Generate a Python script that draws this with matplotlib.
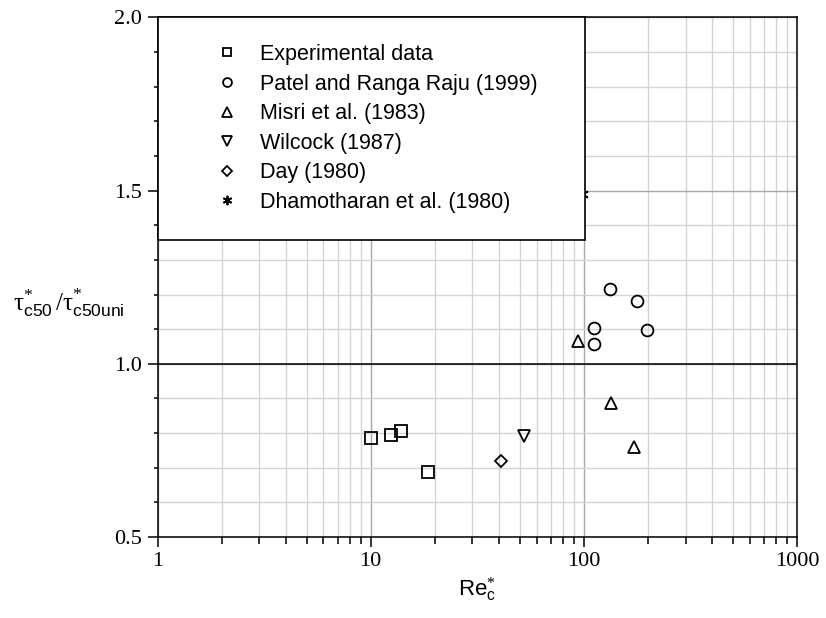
import matplotlib
matplotlib.use('Agg')
import matplotlib.pyplot as plt
from matplotlib.ticker import FixedLocator, LogLocator, NullFormatter, FixedFormatter

# ── data ─────────────────────────────────────────────────────────────────────
exp_x = [10.0, 12.4, 13.9, 18.6]
exp_y = [0.787, 0.794, 0.807, 0.689]

patel_x = [132.7, 177.0, 111.6, 198.7, 111.6]
patel_y = [1.216, 1.180, 1.103, 1.098, 1.057]

misri_x = [94.0, 133.7, 172.0]
misri_y = [1.066, 0.887, 0.759]

wilcock_x = [52.3]
wilcock_y = [0.793]

day_x = [40.8]
day_y = [0.718]

dham_x = [98.0]
dham_y = [1.49]

y_major = [0.5, 1.0, 1.5, 2.0]
y_labels = ['0.5', '1.0', '1.5', '2.0']
y_minor = [0.6, 0.7, 0.8, 0.9, 1.1, 1.2, 1.3, 1.4, 1.6, 1.7, 1.8, 1.9]
x_major = [1, 10, 100, 1000]
x_labels = ['1', '10', '100', '1000']

# ── style ────────────────────────────────────────────────────────────────────
plt.rcParams['mathtext.fontset'] = 'custom'
plt.rcParams['mathtext.rm'] = 'Liberation Serif'
plt.rcParams['mathtext.sf'] = 'Liberation Sans'
plt.rcParams['mathtext.it'] = 'Liberation Serif:italic'

serif = 'Liberation Serif'
sans = 'Liberation Sans'

fig, ax = plt.subplots(figsize=(8.26, 6.18), dpi=100)
fig.subplots_adjust(left=0.1907, right=0.9649, bottom=0.1311, top=0.9717)

ax.set_xscale('log')
ax.set_xlim(1, 1000)
ax.set_ylim(0.5, 2.0)

ax.xaxis.set_major_locator(FixedLocator(x_major))
ax.xaxis.set_major_formatter(FixedFormatter(x_labels))
ax.xaxis.set_minor_locator(LogLocator(base=10, subs=range(2, 10)))
ax.xaxis.set_minor_formatter(NullFormatter())
ax.yaxis.set_major_locator(FixedLocator(y_major))
ax.yaxis.set_major_formatter(FixedFormatter(y_labels))
ax.yaxis.set_minor_locator(FixedLocator(y_minor))

ax.tick_params(which='major', direction='out', length=7, width=1.1,
               labelsize=16, pad=4)
ax.tick_params(axis='x', which='minor', direction='out', length=4.8, width=1.1)
ax.tick_params(axis='y', which='minor', direction='out', length=3, width=1.1)
for lab in ax.get_xticklabels() + ax.get_yticklabels():
    lab.set_fontfamily(serif)

for sp in ax.spines.values():
    sp.set_linewidth(1.1)
    sp.set_color('black')

ax.grid(True, which='major', axis='x', color='#a8a8a8', linewidth=1.0)
ax.grid(True, which='minor', axis='x', color='#d4d4d4', linewidth=1.0)
ax.grid(True, which='major', axis='y', color='#a8a8a8', linewidth=1.0)
ax.grid(True, which='minor', axis='y', color='#d4d4d4', linewidth=1.0)
ax.set_axisbelow(True)
ax.axhline(1.0, color='black', linewidth=1.1, zorder=1.5)

# ── points ───────────────────────────────────────────────────────────────────
common = dict(linestyle='none', markerfacecolor='none',
              markeredgecolor='black', markeredgewidth=1.3, zorder=3)
ax.plot(exp_x, exp_y, marker='s', ms=8, label='Experimental data', **common)
ax.plot(patel_x, patel_y, marker='o', ms=8.5,
        label='Patel and Ranga Raju (1999)', **common)
ax.plot(misri_x, misri_y, marker='^', ms=9, label='Misri et al. (1983)', **common)
ax.plot(wilcock_x, wilcock_y, marker='v', ms=9, label='Wilcock (1987)', **common)
ax.plot(day_x, day_y, marker='D', ms=6.5, label='Day (1980)', **common)
ax.plot(dham_x, dham_y, marker=(6, 2, 0), ms=9,
        label='Dhamotharan et al. (1980)', **common)

leg = ax.legend(loc='upper left', bbox_to_anchor=(0, 1, 0.6685, 0),
                mode='expand', borderaxespad=0,
                prop={'family': sans, 'size': 15.5},
                frameon=True, fancybox=False, edgecolor='black', framealpha=1,
                borderpad=1.23, handlelength=4.0, handletextpad=-0.47,
                labelspacing=0.40, markerscale=0.75)
leg.get_frame().set_linewidth(1.2)
leg.set_zorder(5)

# ── labels ───────────────────────────────────────────────────────────────────
ax.set_xlabel(r'$\mathsf{Re}^{*}_{\mathsf{c}}$', fontsize=16, labelpad=3)
fig.text(13 / 826, 1 - 303 / 618,
         r'$\mathrm{\tau}^{*}_{\mathsf{c50}}\,/\mathrm{\tau}^{*}_{\mathsf{c50uni}}$',
         fontsize=18, ha='left', va='center')

fig.savefig('out.png', dpi=100)
